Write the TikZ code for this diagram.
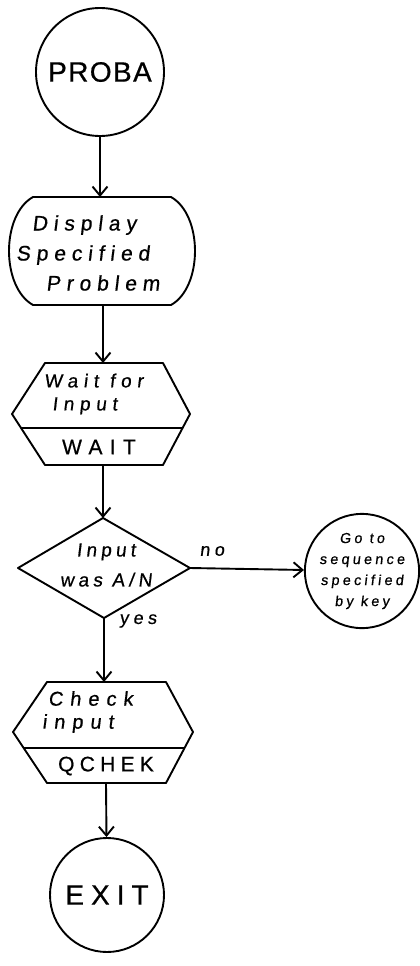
\documentclass[tikz,border=0pt]{standalone}
\usepackage{fontspec}
\setmainfont{Liberation Sans}
% hand-lettered look: tracked caps upright, mixed case slightly slanted
\newfontfamily\handcaps[FakeBold=0.6]{Liberation Sans}
\newfontfamily\handtext[FakeSlant=0.12,FakeBold=0.6]{Liberation Sans}
\usetikzlibrary{arrows.meta,calc}

\begin{document}
\begin{tikzpicture}[x=1pt,y=-1pt,
  outline/.style={draw, line width=1.9pt, line join=round},
  flow/.style={draw, line width=1.9pt, -{Straight Barb[length=9pt,width=15pt,line width=1.9pt]}},
  lbl/.style={align=center, inner sep=0pt},
  lbll/.style={align=left, inner sep=0pt, anchor=west},
  termcircle/.style={circle, outline, inner sep=0pt},
]
\useasboundingbox (0,0) rectangle (420,966);

% entry point
\node[termcircle, minimum size=128pt,
  font=\handcaps\addfontfeature{LetterSpace=5}\fontsize{28}{30}\selectfont] (proba) at (100,72) {PROBA};

% display box with rounded sides
\coordinate (dispT) at (100,197);
\coordinate (dispB) at (103,305);
\draw[outline] (33,197) -- (171,197) .. controls (203,215) and (203,287) .. (171,305)
  -- (33,305) .. controls (1,287) and (1,215) .. (33,197) -- cycle;
\node[lbll, font=\handtext\addfontfeature{LetterSpace=28}\fontsize{21}{30}\selectfont] (disp) at (16,253)
  {\hspace*{16pt}Display\\Specified\\\hspace*{30pt}Problem};

% wait hexagon with subroutine name
\coordinate (waitT) at (103,363);
\coordinate (waitB) at (103,465);
\coordinate (wL) at (12,414);
\coordinate (wR) at (190,414);
\draw[outline] (45,363) -- (163,363) -- (wR) -- (163,465) -- (45,465) -- (wL) -- cycle;
\draw[outline] ($(wL)!14/51!(45,465)$) -- ($(wR)!14/51!(163,465)$);
\node[lbll, font=\handtext\addfontfeature{LetterSpace=30}\fontsize{19}{23}\selectfont] (waitdesc) at (44,394)
  {Wait for\\\hspace*{8pt}Input};
\node[lbl, font=\handcaps\addfontfeature{LetterSpace=35}\fontsize{21}{24}\selectfont] (waitname) at (99,447) {WAIT};

% decision
\coordinate (dT) at (103,518);
\coordinate (dB) at (104,618);
\coordinate (dL) at (18,568);
\coordinate (dR) at (190,568);
\draw[outline] (dT) -- (dR) -- (dB) -- (dL) -- cycle;
\node[lbl, font=\handtext\addfontfeature{LetterSpace=22}\fontsize{19}{30}\selectfont] (test) at (106,565) {Input\\was A/N};
\node[lbl, font=\handtext\addfontfeature{LetterSpace=25}\fontsize{18}{20}\selectfont] (nolbl) at (212,551) {no};
\node[lbl, font=\handtext\addfontfeature{LetterSpace=25}\fontsize{18}{20}\selectfont] (yeslbl) at (138,621) {yes};

% branch target
\node[termcircle, minimum size=110pt, align=center,
  font=\handtext\addfontfeature{LetterSpace=22}\fontsize{14.5}{21}\selectfont] (goto) at (362,571)
  {Go to\\sequence\\specified\\by key};

% check hexagon with subroutine name
\coordinate (chkT) at (104,682);
\coordinate (chkB) at (106,783);
\coordinate (cL) at (13,732);
\coordinate (cR) at (193,732);
\draw[outline] (47,682) -- (166,682) -- (cR) -- (166,783) -- (47,783) -- (cL) -- cycle;
\draw[outline] ($(cL)!16/51!(47,783)$) -- ($(cR)!16/51!(166,783)$);
\node[lbll, font=\handtext\addfontfeature{LetterSpace=35}\fontsize{20}{23}\selectfont] (chkdesc) at (42,712)
  {\hspace*{6pt}Check\\input};
\node[lbl, font=\handcaps\addfontfeature{LetterSpace=25}\fontsize{21}{24}\selectfont] (chkname) at (106,766) {QCHEK};

% exit
\node[termcircle, minimum size=114pt,
  font=\handcaps\addfontfeature{LetterSpace=25}\fontsize{28}{30}\selectfont] (exit) at (107,895) {EXIT};

% connectors
\draw[flow] (proba) -- (dispT);
\draw[flow] (dispB) -- (waitT);
\draw[flow] (waitB) -- (dT);
\draw[flow] (dR) -- (goto);
\draw[flow] (dB) -- (chkT);
\draw[flow] (chkB) -- (exit);
\end{tikzpicture}
\end{document}
